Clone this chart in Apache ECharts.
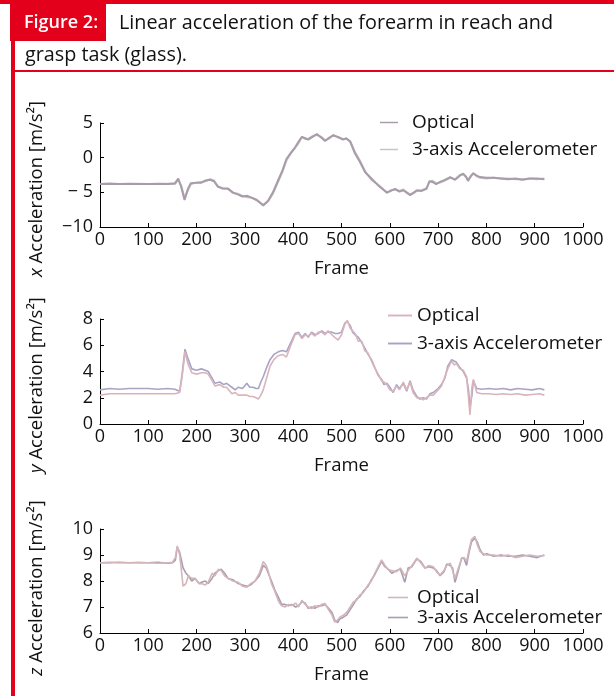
<!DOCTYPE html>
<html><head><meta charset="utf-8">
<script src="https://cdn.jsdelivr.net/npm/echarts@6/dist/echarts.min.js"></script>
<style>html,body{margin:0;padding:0;background:#fff}#c{width:614px;height:696px}</style>
</head><body><div id="c"></div>
<script>
// ---------- data ----------
const xTickLabels = ['0','100','200','300','400','500','600','700','800','900','1000'];
const yTicksX = {'-10':'−10','-5':'− 5','0':'0','5':'5'};

// Panel 1 : x acceleration
const framesX = [0,20,40,60,80,100,120,140,155,162,168,175,182,188,200,210,218,228,236,244,254,265,275,285,295,305,315,325,338,348,358,368,378,386,395,404,412,418,425,431,440,449,458,466,475,483,493,503,510,518,528,538,549,562,576,586,594,602,611,620,628,635,642,650,656,666,676,682,688,696,704,714,725,735,745,752,758,762,768,773,780,787,800,815,830,845,860,875,890,905,920];
const opticalX = [-3.8,-3.8,-3.8,-3.75,-3.8,-3.8,-3.75,-3.8,-3.7,-3.0,-4.2,-6.1,-4.5,-3.7,-3.6,-3.6,-3.3,-3.2,-3.4,-4.2,-4.4,-4.5,-5.0,-5.3,-5.6,-5.5,-5.8,-6.1,-6.9,-6.2,-5.0,-3.4,-1.8,-0.2,0.7,1.5,2.4,3.0,2.8,2.6,3.0,3.4,2.9,2.4,2.9,3.2,3.0,2.6,2.8,2.3,0.6,-0.6,-2.1,-3.0,-4.0,-4.6,-5.0,-4.8,-4.5,-4.9,-4.7,-5.0,-5.4,-5.0,-4.7,-4.8,-4.5,-3.4,-3.5,-3.8,-3.5,-3.2,-2.8,-3.2,-2.6,-2.3,-2.8,-3.3,-2.6,-2.3,-2.6,-2.8,-2.9,-2.9,-3.0,-3.1,-3.0,-3.2,-3.0,-3.0,-3.1];
const accelX = [-3.8,-3.7,-3.8,-3.8,-3.75,-3.8,-3.8,-3.75,-3.8,-3.2,-4.0,-5.8,-4.7,-3.8,-3.6,-3.5,-3.4,-3.1,-3.3,-4.1,-4.5,-4.4,-5.1,-5.2,-5.5,-5.7,-5.8,-6.2,-6.8,-6.3,-5.2,-3.6,-2.0,-0.4,0.6,1.4,2.2,3.0,2.7,2.7,3.1,3.3,3.0,2.5,2.8,3.3,2.9,2.7,2.7,2.4,0.8,-0.4,-2.0,-3.2,-3.9,-4.5,-5.1,-4.7,-4.6,-4.8,-4.6,-5.1,-5.3,-5.1,-4.8,-4.7,-4.4,-3.5,-3.3,-3.7,-3.6,-3.3,-2.9,-3.1,-2.5,-2.4,-2.7,-3.4,-2.7,-2.2,-2.7,-2.9,-3.0,-2.9,-3.0,-3.0,-3.1,-3.1,-3.0,-3.1,-3.0];

// Panel 2 : y acceleration
const framesY = [0,20,40,60,80,100,120,140,155,165,170,176,182,190,200,210,218,224,232,238,248,256,262,273,280,286,295,304,310,317,323,328,333,338,345,352,360,369,378,386,395,404,411,418,425,431,438,445,452,459,466,472,480,486,493,500,507,512,518,523,528,535,542,548,555,562,569,576,583,588,594,600,607,614,620,628,635,642,648,656,662,669,676,683,690,700,707,714,720,728,733,738,745,752,759,763,766,770,773,780,790,805,820,835,850,865,880,895,910,920];
const opticalY = [2.2,2.3,2.3,2.3,2.3,2.3,2.3,2.3,2.3,2.4,3.6,5.5,4.6,3.9,3.8,3.9,3.9,3.8,3.3,2.9,3.0,2.8,2.8,2.3,2.4,2.2,2.2,2.2,2.1,2.1,2.0,1.9,2.2,2.6,3.5,4.4,4.9,5.2,5.3,5.1,6.0,6.8,6.9,6.5,6.8,6.7,6.9,6.7,7.0,7.0,6.8,7.1,6.8,6.6,6.4,6.8,7.6,7.9,7.3,7.1,6.9,6.3,6.3,5.6,5.4,4.8,4.25,3.8,3.3,3.2,3.0,2.6,2.5,2.9,2.6,3.2,2.6,3.2,2.4,2.0,2.0,1.85,2.0,2.2,2.2,2.6,2.9,3.6,4.2,4.8,4.5,4.6,4.2,4.1,3.6,2.0,0.7,2.8,3.4,2.4,2.3,2.3,2.25,2.3,2.25,2.3,2.2,2.25,2.3,2.2];
const accelY = [2.6,2.7,2.65,2.7,2.7,2.7,2.65,2.7,2.65,2.5,3.8,5.7,5.0,4.2,4.1,4.2,4.1,4.0,3.5,3.1,3.2,3.0,3.1,2.8,2.6,2.8,2.7,3.1,2.8,2.8,2.7,2.7,3.2,3.6,4.3,4.9,5.3,5.5,5.6,5.5,6.2,6.9,7.0,6.6,6.9,6.6,7.0,6.8,6.9,7.1,6.9,7.0,7.0,6.9,6.9,7.0,7.7,7.8,7.5,7.0,6.8,6.6,6.2,5.8,5.3,4.9,4.3,3.7,3.4,3.0,3.1,2.8,2.4,3.0,2.7,3.1,2.5,3.3,2.6,2.1,1.9,2.0,1.9,2.3,2.4,2.7,3.0,3.5,4.4,4.9,4.8,4.7,4.3,4.0,3.5,2.6,1.2,2.2,3.3,2.7,2.65,2.7,2.65,2.7,2.6,2.7,2.65,2.6,2.7,2.6];

// Panel 3 : z acceleration
const framesZ = [0,20,40,60,80,100,120,140,150,156,160,165,172,178,183,190,197,205,210,218,224,232,238,245,251,258,265,275,286,295,304,312,321,330,338,344,348,355,362,370,376,383,390,397,405,411,418,425,431,438,445,452,459,466,473,480,486,492,497,503,511,518,525,531,538,545,555,562,569,576,583,590,597,604,614,622,631,638,646,656,664,673,681,690,697,704,712,718,725,730,735,742,749,754,759,764,769,776,781,787,794,801,815,830,845,860,875,890,905,920];
const opticalZ = [8.7,8.72,8.7,8.7,8.72,8.7,8.68,8.7,8.72,8.9,9.35,9.0,7.8,7.9,8.2,8.1,8.1,7.9,7.9,7.85,7.95,8.3,8.2,8.45,8.4,8.2,8.1,8.0,7.95,7.8,7.76,7.9,8.0,8.3,8.75,8.6,8.4,7.9,7.6,7.2,7.05,7.0,7.1,7.05,7.15,7.0,7.26,7.1,7.0,6.94,7.05,7.0,7.1,7.13,6.9,6.7,6.42,6.5,6.62,6.67,6.8,7.0,7.2,7.25,7.46,7.55,7.85,8.0,8.3,8.55,8.81,8.6,8.43,8.4,8.36,8.5,8.2,8.4,8.6,8.88,8.7,8.49,8.6,8.55,8.35,8.23,8.4,8.6,8.69,8.4,8.1,8.5,8.88,8.9,8.75,9.2,9.59,9.72,9.4,9.13,9.05,9.0,9.0,8.95,9.0,8.9,8.95,9.0,8.95,8.98];
const accelZ = [8.7,8.7,8.72,8.7,8.7,8.7,8.72,8.68,8.7,8.8,9.3,9.1,8.5,8.3,8.2,8.0,8.1,7.9,7.95,8.0,7.9,8.1,8.3,8.4,8.45,8.3,8.1,8.05,7.9,7.85,7.8,7.85,8.0,8.2,8.6,8.5,8.43,8.0,7.65,7.35,7.1,7.1,7.05,7.1,7.0,7.05,7.2,7.15,6.95,7.0,6.95,7.05,7.05,7.1,6.95,6.8,6.5,6.4,6.55,6.6,6.7,6.9,7.1,7.3,7.4,7.6,7.8,8.05,8.25,8.5,8.75,8.55,8.45,8.3,8.4,8.45,7.95,8.5,8.55,8.85,8.75,8.5,8.55,8.5,8.4,8.2,8.35,8.65,8.6,8.5,7.95,8.4,8.9,8.85,8.6,9.1,9.5,9.65,9.5,9.2,9.0,9.05,8.95,9.0,8.95,8.95,9.0,8.95,8.9,9.0];

// ---------- chart ----------
const FONT = 'Open Sans';
const RED = '#e3001b';
const pair = (f, v) => f.map((x, i) => [x, v[i]]);

const grids = [
  {left: 100, right: 31, top: 123, height: 104},
  {left: 100, right: 31, top: 319, height: 105},
  {left: 100, right: 31, top: 529, height: 104}
];

function xAxisFor(i) {
  return {
    gridIndex: i, type: 'value', min: 0, max: 1000, interval: 100,
    name: 'Frame', nameLocation: 'middle', nameGap: 32,
    nameTextStyle: {color: '#111', fontSize: 18.5, fontFamily: FONT},
    axisLine: {show: true, onZero: false, lineStyle: {color: '#000', width: 1}},
    axisTick: {show: true, inside: true, length: 4, lineStyle: {color: '#000'}},
    axisLabel: {color: '#111', fontSize: 18, fontFamily: FONT, margin: 4,
      formatter: v => xTickLabels[Math.round(v / 100)]},
    splitLine: {show: false}
  };
}
function yAxisFor(i, min, max, interval, fmt) {
  return {
    gridIndex: i, type: 'value', min, max, interval,
    axisLine: {show: true, lineStyle: {color: '#000', width: 1}},
    axisTick: {show: true, inside: true, length: 4, lineStyle: {color: '#000'}},
    axisLabel: {color: '#111', fontSize: 18, fontFamily: FONT, margin: 7, formatter: fmt},
    splitLine: {show: false}
  };
}
function lineSeries(name, i, data, color, z, w) {
  return {
    name, type: 'line', xAxisIndex: i, yAxisIndex: i, data,
    showSymbol: false, symbol: 'none', smooth: false, z,
    lineStyle: {color, width: w}, itemStyle: {color}
  };
}
function legendFor(left, top, gap, w, pad, names) {
  return {
    orient: 'vertical', left, top, itemGap: gap, padding: 0,
    itemWidth: w, itemHeight: 12, icon: 'path://M0,6 L20,6 L20,7.6 L0,7.6 Z',
    textStyle: {color: '#111', fontSize: 19, fontFamily: FONT, lineHeight: 19, padding: [0,0,0,pad]},
    selectedMode: false, data: names
  };
}
const colors = [
  ['#a89ca8', '#c6c2c8'],
  ['#d9b4bc', '#a9a4c4'],
  ['#d2b6ba', '#ab9cb2']
];

function yTitle(x, y, letter) {
  return {
    type: 'text', x, y, rotation: Math.PI / 2,
    style: {
      text: '{i|' + letter + '} Acceleration [m/s²]',
      align: 'center', verticalAlign: 'middle',
      font: '18.5px "' + FONT + '"', fill: '#111',
      rich: {i: {fontStyle: 'italic', fontSize: 18.5, fontFamily: FONT, fill: '#111'}}
    }
  };
}

const option = {
  animation: false,
  backgroundColor: '#fff',
  grid: grids,
  xAxis: [xAxisFor(0), xAxisFor(1), xAxisFor(2)],
  yAxis: [
    yAxisFor(0, -10, 5, 5, v => yTicksX[String(v)]),
    yAxisFor(1, 0, 8, 2, v => String(v)),
    yAxisFor(2, 6, 10, 1, v => String(v))
  ],
  legend: [
    legendFor(380, 113, 8, 18, 9, ['Optical', '3-axis Accelerometer']),
    legendFor(388, 306, 9, 24, 0, ['Optical ', '3-axis Accelerometer ']),
    legendFor(388, 588, 1, 20, 4, ['Optical  ', '3-axis Accelerometer  '])
  ],
  series: [
    lineSeries('3-axis Accelerometer', 0, pair(framesX, accelX), colors[0][1], 2, 2),
    lineSeries('Optical', 0, pair(framesX, opticalX), colors[0][0], 3, 2),
    lineSeries('3-axis Accelerometer ', 1, pair(framesY, accelY), colors[1][1], 2, 1.6),
    lineSeries('Optical ', 1, pair(framesY, opticalY), colors[1][0], 3, 1.6),
    lineSeries('3-axis Accelerometer  ', 2, pair(framesZ, accelZ), colors[2][1], 2, 1.6),
    lineSeries('Optical  ', 2, pair(framesZ, opticalZ), colors[2][0], 3, 1.6)
  ],
  graphic: [
    {type: 'rect', shape: {x: 0, y: 0, width: 614, height: 4}, style: {fill: RED}},
    {type: 'rect', shape: {x: 10, y: 0, width: 96, height: 41}, style: {fill: RED}},
    {type: 'rect', shape: {x: 11, y: 41, width: 4, height: 655}, style: {fill: RED}},
    {type: 'rect', shape: {x: 14, y: 70, width: 600, height: 2}, style: {fill: RED}},
    {type: 'text', x: 24, y: 23, style: {text: 'Figure 2:', fill: '#fff', font: '600 18px "' + FONT + '"', verticalAlign: 'middle'}},
    {type: 'text', x: 119, y: 23, style: {text: 'Linear acceleration of the forearm in reach and', fill: '#111', font: '19.8px "' + FONT + '"', verticalAlign: 'middle'}},
    {type: 'text', x: 25, y: 55, style: {text: 'grasp task (glass).', fill: '#111', font: '19.8px "' + FONT + '"', verticalAlign: 'middle'}},
    yTitle(37, 189, 'x'),
    yTitle(37, 385, 'y'),
    yTitle(37, 588, 'z')
  ]
};
const chart = echarts.init(document.getElementById('c'), null, {renderer: 'canvas'});
chart.setOption(option);
</script>
</body></html>
